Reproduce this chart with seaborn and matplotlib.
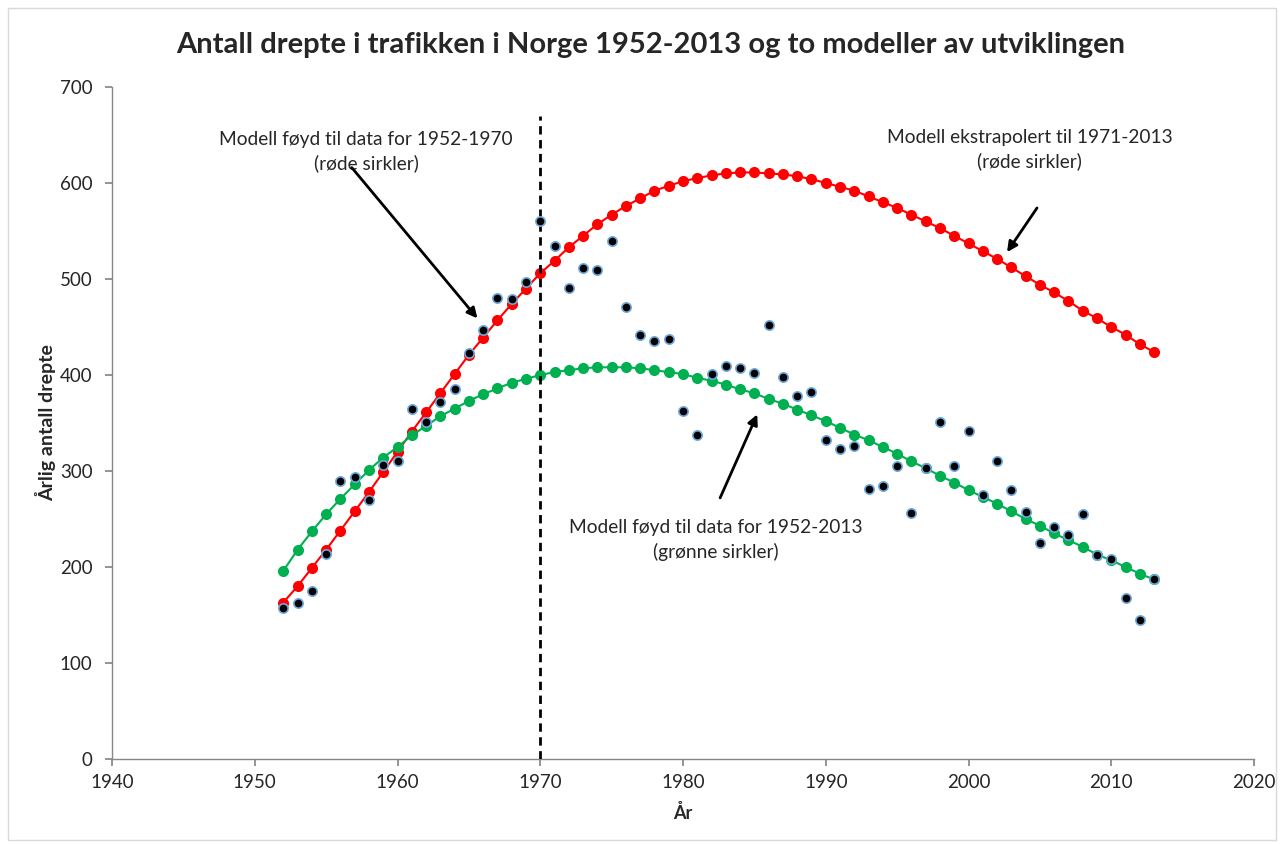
import numpy as np
import pandas as pd
import matplotlib
matplotlib.use("Agg")
import matplotlib.pyplot as plt
import seaborn as sns
from matplotlib.patches import Rectangle

years = list(range(1952, 2014))

observed = [157, 163, 175, 214, 290, 294, 270, 306, 310, 365,
            351, 372, 385, 423, 447, 480, 479, 497, 560, 534,
            491, 511, 509, 540, 471, 442, 435, 438, 363, 338,
            401, 409, 407, 402, 452, 398, 378, 382, 332, 323,
            326, 281, 284, 305, 256, 303, 351, 305, 342, 275,
            310, 280, 257, 225, 242, 233, 255, 212, 208, 168,
            145, 187]

model_1952_1970 = [163, 180, 199, 218, 238, 258, 278, 299, 320, 341,
                   361, 381, 401, 421, 439, 457, 474, 490, 506, 519,
                   533, 545, 557, 567, 576, 584, 592, 597, 602, 605,
                   608, 610, 611, 611, 610, 609, 607, 604, 600, 596,
                   592, 586, 580, 574, 567, 560, 553, 545, 537, 529,
                   521, 512, 503, 494, 486, 477, 467, 459, 450, 442,
                   432, 424]

model_1952_2013 = [196, 218, 237, 255, 271, 286, 301, 314, 325, 337,
                   347, 357, 365, 373, 380, 386, 392, 396, 400, 403,
                   405, 407, 408, 408, 408, 407, 405, 403, 401, 397,
                   394, 390, 385, 381, 375, 370, 364, 358, 352, 345,
                   338, 332, 325, 318, 310, 303, 295, 288, 280, 273,
                   266, 258, 250, 243, 235, 228, 221, 213, 207, 200,
                   193, 187]

x_ticks = [1940, 1950, 1960, 1970, 1980, 1990, 2000, 2010, 2020]
y_ticks = [0, 100, 200, 300, 400, 500, 600, 700]

title = "Antall drepte i trafikken i Norge 1952-2013 og to modeller av utviklingen"
ylabel = "Årlig antall drepte"
xlabel = "År"
ann_red_fit = "Modell føyd til data for 1952-1970\n(røde sirkler)"
ann_red_ext = "Modell ekstrapolert til 1971-2013\n(røde sirkler)"
ann_green = "Modell føyd til data for 1952-2013\n(grønne sirkler)"

df = pd.DataFrame({"year": years, "observed": observed,
                   "red": model_1952_1970, "green": model_1952_2013})

sns.set_theme(style="white")
plt.rcParams["font.family"] = ["Lato", "DejaVu Sans"]

fig = plt.figure(figsize=(12.82, 8.44), dpi=100)
ax = fig.add_axes([112/1282, 1-759/844, (1254-112)/1282, (759-87)/844])

sns.lineplot(data=df, x="year", y="red", ax=ax, color="#FF0000", lw=1.5,
             marker="o", markersize=8, markeredgewidth=0, zorder=2)
sns.lineplot(data=df, x="year", y="green", ax=ax, color="#00B050", lw=1.5,
             marker="o", markersize=8, markeredgewidth=0, zorder=2)
sns.scatterplot(data=df, x="year", y="observed", ax=ax, color="black",
                edgecolor="#6FA8DC", linewidth=1.2, s=45, zorder=4)

ax.plot([1970, 1970], [0, 670], color="black", lw=2, ls=(0, (3, 2)), zorder=3)

ax.set_xlim(1940, 2020)
ax.set_ylim(0, 700)
ax.set_xticks(x_ticks)
ax.set_yticks(y_ticks)
ax.tick_params(axis="both", labelsize=13.5, length=5, color="#868686",
               direction="out", bottom=True, left=True)
ax.tick_params(axis="x", pad=6)
ax.tick_params(axis="y", pad=9)
for side in ["top", "right"]:
    ax.spines[side].set_visible(False)
for side in ["left", "bottom"]:
    ax.spines[side].set_color("#868686")
    ax.spines[side].set_linewidth(1.0)

ax.set_xlabel(xlabel, fontsize=13, fontweight="bold", labelpad=9)
ax.set_ylabel(ylabel, fontsize=14, fontweight="bold", labelpad=3)

fig.text(651/1282, 1-45/844, title, fontsize=21, fontweight="bold",
         ha="center", va="center")

txt_kw = dict(ha="center", va="center", fontsize=13.8, linespacing=1.45)
ax.text(1957.8, 633, ann_red_fit, **txt_kw)
ax.text(2004.3, 635, ann_red_ext, **txt_kw)
ax.text(1982.3, 228, ann_green, **txt_kw)

arrow_kw = dict(arrowstyle="-|>", color="black", lw=2, mutation_scale=15,
                shrinkA=0, shrinkB=0)
ax.annotate("", xy=(1965.6, 459), xytext=(1956.8, 616), arrowprops=arrow_kw)
ax.annotate("", xy=(2002.7, 528), xytext=(2004.8, 574), arrowprops=arrow_kw)
ax.annotate("", xy=(1985.2, 359), xytext=(1982.6, 272), arrowprops=arrow_kw)

fig.patches.append(Rectangle((8/1282, 0.005), 1-14/1282, 0.985,
                             transform=fig.transFigure, fill=False,
                             edgecolor="#D9D9D9", lw=1))

fig.savefig("out.png", dpi=100, facecolor="white")
